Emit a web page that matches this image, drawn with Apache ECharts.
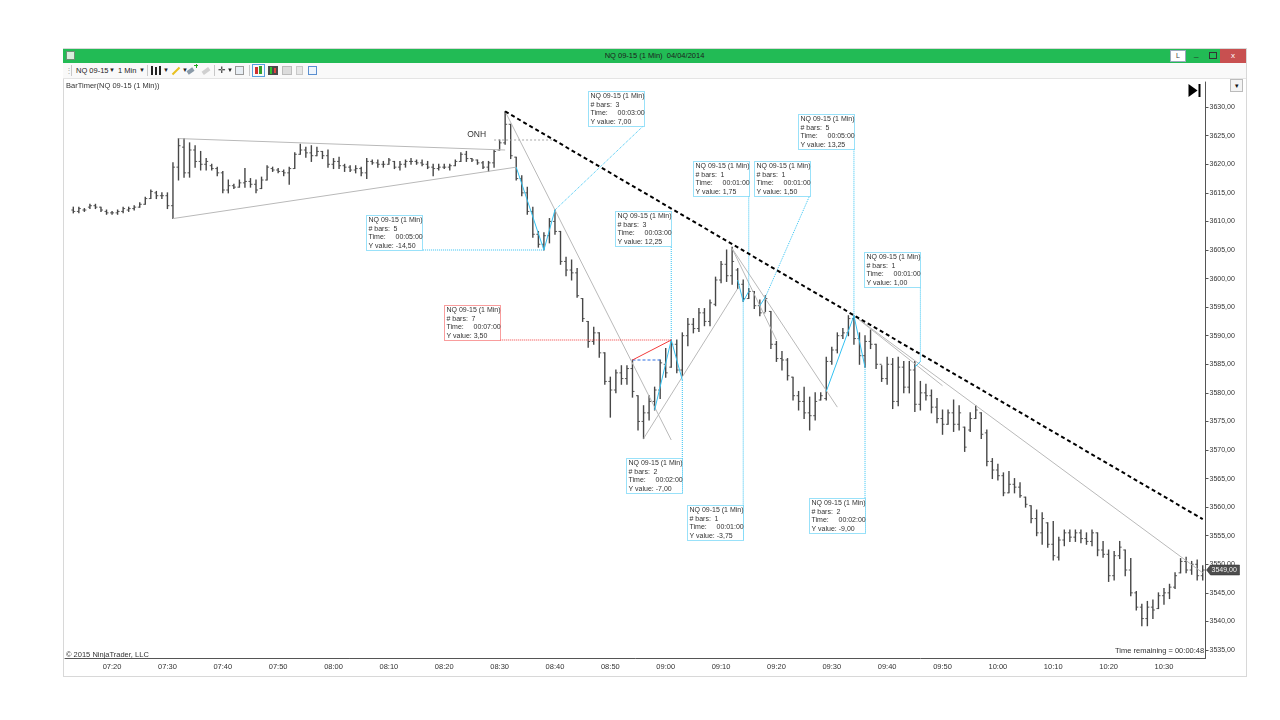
<!DOCTYPE html>
<html>
<head>
<meta charset="utf-8">
<title>NQ 09-15 (1 Min)</title>
<script src="https://cdn.jsdelivr.net/npm/echarts@6.0.0/dist/echarts.min.js"></script>
<style>
  html, body { margin: 0; padding: 0; background: #fff; }
  body { width: 1280px; height: 720px; position: relative; overflow: hidden; font-family: "Liberation Sans", Arial, sans-serif; color: #333; }
  #chart { position: absolute; left: 0; top: 0; width: 1280px; height: 720px; }
  .abs { position: absolute; }
  .win { left: 63px; top: 48px; width: 1182px; height: 627px; border: 1px solid #d8d8d8; }
  .titlebar { left: 63px; top: 49px; width: 1183px; height: 14px; background: #22bb55; }
  .ttext { left: 0; width: 1183px; top: 1px; text-align: center; font-size: 7.5px; line-height: 12px; color: #1c1c1c; white-space: pre; }
  .ticon { left: 3px; top: 2px; width: 9px; height: 9px; background: #d9eede; border: 1px solid #6c8f75; box-sizing: border-box; }
  .btnL { left: 1107px; top: 1px; width: 16px; height: 12px; background: #fff; border: 1px solid #9ab; box-sizing: border-box; font-size: 7px; line-height: 10px; text-align: center; color: #444; }
  .btnMin { left: 1131px; top: 0; font-size: 8px; color: #222; }
  .btnMax { left: 1146px; top: 3px; width: 6px; height: 5px; border: 1px solid #333; }
  .btnX { left: 1157px; top: 0; width: 26px; height: 14px; background: #c85050; color: #fff; font-size: 8px; line-height: 13px; text-align: center; }
  .toolbar { left: 63px; top: 63px; width: 1183px; height: 15px; background: #f9f9f9; border-bottom: 1px solid #e4e4e4; }
  .tb { font-size: 7.5px; line-height: 15px; color: #222; top: 0; white-space: pre; }
  .arr { font-size: 6px; line-height: 15px; color: #222; top: 0; }
  .sep { top: 2px; width: 1px; height: 11px; background: #c8c8c8; }
  .bartimer { left: 66px; top: 81px; font-size: 7.5px; color: #333; }
  .dd { left: 1230px; top: 79px; width: 13px; height: 13px; border: 1px solid #bbb; background: #f4f4f4; box-sizing: border-box; font-size: 7px; line-height: 11px; text-align: center; color: #111; }
  .copy { left: 66px; top: 650px; font-size: 7.5px; color: #333; }
  .remain { left: 1115px; top: 646px; font-size: 7.5px; color: #333; }
</style>
</head>
<body>
<div id="chart"></div>

<div class="abs win"></div>
<div class="abs titlebar">
  <div class="abs ticon"></div>
  <div class="abs ttext">NQ 09-15 (1 Min)  04/04/2014</div>
  <div class="abs btnL">L</div>
  <div class="abs btnMin">_</div>
  <div class="abs btnMax"></div>
  <div class="abs btnX">x</div>
</div>
<div class="abs toolbar">
  <div class="abs tb" style="left:2px;color:#aaa">⋮</div>
  <div class="abs sep" style="left:8px"></div>
  <div class="abs tb" style="left:13px">NQ 09-15</div>
  <div class="abs arr" style="left:46px">▼</div>
  <div class="abs tb" style="left:55px">1 Min</div>
  <div class="abs arr" style="left:76px">▼</div>
  <div class="abs sep" style="left:84px"></div>
  <div class="abs" style="left:88px;top:3px;width:2px;height:9px;background:#222"></div>
  <div class="abs" style="left:92px;top:4px;width:2px;height:8px;background:#222"></div>
  <div class="abs" style="left:96px;top:3px;width:2px;height:9px;background:#222"></div>
  <div class="abs arr" style="left:100px">▼</div>
  <div class="abs" style="left:108px;top:7px;width:10px;height:2px;background:#e8c020;transform:rotate(-45deg)"></div>
  <div class="abs arr" style="left:119px">▼</div>
  <div class="abs" style="left:124px;top:6px;width:7px;height:4px;background:#8a9aa8;transform:rotate(-35deg)"></div>
  <div class="abs" style="left:131px;top:2px;width:4px;height:1px;background:#2a2"></div>
  <div class="abs" style="left:132.5px;top:0.5px;width:1px;height:4px;background:#2a2"></div>
  <div class="abs" style="left:139px;top:6px;width:8px;height:4px;background:#d0d0d0;transform:rotate(-35deg)"></div>
  <div class="abs sep" style="left:151px"></div>
  <div class="abs tb" style="left:155px;font-size:9px">✛</div>
  <div class="abs arr" style="left:164px">▼</div>
  <div class="abs" style="left:172px;top:3px;width:9px;height:9px;border:1px solid #999;background:#e8eef4;box-sizing:border-box"></div>
  <div class="abs sep" style="left:186px"></div>
  <div class="abs" style="left:189px;top:1px;width:13px;height:13px;border:1px solid #5aa0e0;box-sizing:border-box"></div>
  <div class="abs" style="left:192px;top:4px;width:3px;height:7px;background:#d03030"></div>
  <div class="abs" style="left:196px;top:3px;width:3px;height:8px;background:#30a030"></div>
  <div class="abs" style="left:205px;top:3px;width:10px;height:9px;background:#4a4a4a"></div>
  <div class="abs" style="left:207px;top:4px;width:2px;height:7px;background:#30c030"></div>
  <div class="abs" style="left:211px;top:5px;width:2px;height:5px;background:#e04040"></div>
  <div class="abs" style="left:219px;top:3px;width:10px;height:9px;background:#dcdcdc;border:1px solid #bbb;box-sizing:border-box"></div>
  <div class="abs" style="left:233px;top:3px;width:7px;height:9px;background:#e6e6e6;border:1px solid #c8c8c8;box-sizing:border-box"></div>
  <div class="abs" style="left:245px;top:3px;width:9px;height:9px;border:1px solid #5a8fd0;background:#eef4fc;box-sizing:border-box"></div>
</div>
<div class="abs bartimer">BarTimer(NQ 09-15 (1 Min))</div>
<div class="abs dd">▾</div>
<div class="abs copy">© 2015 NinjaTrader, LLC</div>
<div class="abs remain">Time remaining = 00:00:48</div>

<script>
// ---- data -------------------------------------------------------------

// 1 minute bars: time, open, high, low, close
var bars = [
  ['07:13', 3612, 3612.5, 3611.5, 3611.75], ['07:14', 3611.75, 3612.5, 3611.5, 3612.25],
  ['07:15', 3612, 3612.25, 3611.75, 3612], ['07:16', 3612.5, 3613, 3612.25, 3612.75],
  ['07:17', 3612.75, 3613, 3612.25, 3612.5], ['07:18', 3612.5, 3612.5, 3611.75, 3612],
  ['07:19', 3611.75, 3612, 3611.25, 3611.5], ['07:20', 3611.5, 3611.75, 3611.25, 3611.5],
  ['07:21', 3611.5, 3612, 3611.25, 3611.75], ['07:22', 3611.75, 3612.5, 3611.5, 3612.25],
  ['07:23', 3612, 3612.5, 3611.75, 3612.25], ['07:24', 3612.25, 3612.75, 3612, 3612.5],
  ['07:25', 3612.5, 3613.25, 3612.5, 3613], ['07:26', 3613, 3614.25, 3613, 3614],
  ['07:27', 3614, 3615.5, 3614, 3615.25], ['07:28', 3615, 3615.25, 3614, 3614.5],
  ['07:29', 3614.5, 3615, 3614, 3614.5], ['07:30', 3614.5, 3615, 3612.25, 3612.75],
  ['07:31', 3612.75, 3620.25, 3610.5, 3619.5], ['07:32', 3619.5, 3624.5, 3617.25, 3623.25],
  ['07:33', 3623, 3624.5, 3617.75, 3618.5], ['07:34', 3618.5, 3623.75, 3617.75, 3622.5],
  ['07:35', 3622.5, 3623.25, 3619.5, 3620.5], ['07:36', 3620.5, 3622.25, 3619, 3620],
  ['07:37', 3620, 3621, 3619, 3620.5], ['07:38', 3619.75, 3620, 3619, 3619.25],
  ['07:39', 3619.25, 3619.5, 3618, 3618.5], ['07:40', 3618.5, 3618.75, 3615, 3615.5],
  ['07:41', 3615.5, 3617.25, 3615, 3616.25], ['07:42', 3616.25, 3616.5, 3615.75, 3616],
  ['07:43', 3616, 3617.25, 3616, 3616.75], ['07:44', 3616.75, 3619.25, 3616, 3617],
  ['07:45', 3617, 3617.5, 3616, 3616.5], ['07:46', 3616.5, 3617.25, 3615, 3615.5],
  ['07:47', 3615.75, 3617.75, 3615.75, 3617.25], ['07:48', 3617.25, 3619.75, 3617.25, 3619.5],
  ['07:49', 3619.25, 3619.5, 3618.75, 3619], ['07:50', 3619, 3619.25, 3618.5, 3618.75],
  ['07:51', 3618.75, 3619, 3618, 3618.5], ['07:52', 3618.5, 3619.5, 3616.5, 3619.25],
  ['07:53', 3619.25, 3622, 3619.25, 3621.75], ['07:54', 3621.75, 3623.5, 3621.75, 3622.5],
  ['07:55', 3622.5, 3623, 3621.25, 3622], ['07:56', 3622, 3623.25, 3620.5, 3621.5],
  ['07:57', 3621.5, 3623, 3621.5, 3622.25], ['07:58', 3622.25, 3622.25, 3621, 3621.5],
  ['07:59', 3621.5, 3622.5, 3619.5, 3620], ['08:00', 3620, 3621, 3619.25, 3620.5],
  ['08:01', 3620.5, 3621.25, 3619.25, 3619.75], ['08:02', 3619.75, 3620, 3618.75, 3619.5],
  ['08:03', 3619.5, 3619.75, 3618.75, 3619], ['08:04', 3619, 3619.75, 3618.5, 3619.25],
  ['08:05', 3619.25, 3619.5, 3618, 3618.5], ['08:06', 3618.5, 3621, 3617.5, 3620.5],
  ['08:07', 3620.5, 3620.75, 3620, 3620.25], ['08:08', 3620.25, 3620.75, 3619.5, 3620],
  ['08:09', 3620, 3620.5, 3619.5, 3620], ['08:10', 3620, 3621, 3620, 3620.75],
  ['08:11', 3620.5, 3620.5, 3619.25, 3619.5], ['08:12', 3619.5, 3620.5, 3619, 3620],
  ['08:13', 3620, 3620.75, 3619.5, 3620.5], ['08:14', 3620.5, 3621, 3620, 3620.5],
  ['08:15', 3620.5, 3620.75, 3620, 3620.25], ['08:16', 3620.25, 3620.75, 3619.75, 3620],
  ['08:17', 3620, 3620.5, 3619.25, 3619.5], ['08:18', 3619.5, 3620, 3618, 3619.25],
  ['08:19', 3619.25, 3620, 3619, 3619.5], ['08:20', 3619.5, 3620, 3619.25, 3619.5],
  ['08:21', 3619.5, 3620, 3619, 3619.75], ['08:22', 3619.75, 3620.75, 3619.75, 3620.5],
  ['08:23', 3620.5, 3622, 3620.5, 3621.75], ['08:24', 3621.75, 3622.25, 3620.5, 3621],
  ['08:25', 3621, 3621, 3620.5, 3620.75], ['08:26', 3620.75, 3620.75, 3620, 3620.25],
  ['08:27', 3620.25, 3620.5, 3619.25, 3619.5], ['08:28', 3619.5, 3620.5, 3618.75, 3620.25],
  ['08:29', 3620.25, 3622.5, 3619.5, 3622.25], ['08:30', 3622.5, 3624.25, 3622.5, 3623.75],
  ['08:31', 3623.75, 3629.25, 3623.5, 3627], ['08:32', 3627, 3627, 3621, 3621.5],
  ['08:33', 3621.25, 3621.25, 3617.25, 3617.5], ['08:34', 3617.5, 3618, 3614.5, 3615],
  ['08:35', 3615, 3616, 3611.25, 3611.75], ['08:36', 3611.75, 3612.5, 3607.25, 3607.75],
  ['08:37', 3607.75, 3608.25, 3605.5, 3606], ['08:38', 3606, 3608, 3605, 3607.5],
  ['08:39', 3607.5, 3610.5, 3606.25, 3610], ['08:40', 3610, 3612, 3607.75, 3608.25],
  ['08:41', 3608.25, 3608.25, 3602.5, 3603], ['08:42', 3603, 3603.75, 3600.5, 3601.5],
  ['08:43', 3601.5, 3603.25, 3599.75, 3601], ['08:44', 3601, 3601.75, 3596.75, 3597],
  ['08:45', 3596.5, 3596.5, 3592.5, 3593], ['08:46', 3592.5, 3592.5, 3588, 3589],
  ['08:47', 3589, 3591.5, 3588.5, 3590.5], ['08:48', 3590.5, 3590.5, 3586.25, 3587],
  ['08:49', 3587, 3587, 3581.5, 3582], ['08:50', 3582, 3582.75, 3575.75, 3580.5],
  ['08:51', 3580.5, 3584, 3580, 3583.5], ['08:52', 3583.5, 3584.75, 3581.5, 3582.5],
  ['08:53', 3582.5, 3584.75, 3581.5, 3584.25], ['08:54', 3584.25, 3585.75, 3579.25, 3580.25],
  ['08:55', 3579.5, 3579.5, 3573.5, 3575], ['08:56', 3575, 3577.75, 3572, 3576.5],
  ['08:57', 3576.5, 3579.5, 3575.25, 3578.5], ['08:58', 3578.5, 3581, 3577, 3580.5],
  ['08:59', 3580.5, 3585.75, 3579, 3585.25], ['09:00', 3585, 3587.75, 3582.75, 3583.5],
  ['09:01', 3584.5, 3589.25, 3584.5, 3588.5], ['09:02', 3588.5, 3589.25, 3583.5, 3584],
  ['09:03', 3584, 3590.5, 3583, 3590], ['09:04', 3590, 3593, 3588.25, 3592],
  ['09:05', 3592, 3593, 3590.5, 3591.25], ['09:06', 3591.25, 3594.75, 3590.75, 3594],
  ['09:07', 3594, 3594.75, 3591.75, 3592.5], ['09:08', 3592.5, 3596.25, 3591.75, 3595.75],
  ['09:09', 3595.5, 3600.25, 3595.25, 3599.75], ['09:10', 3599.75, 3603, 3599.25, 3602.5],
  ['09:11', 3602.5, 3605, 3599.5, 3600.5], ['09:12', 3600.5, 3605.5, 3599, 3603],
  ['09:13', 3601.5, 3601.75, 3598.25, 3599], ['09:14', 3599, 3599.75, 3596, 3596.5],
  ['09:15', 3596.5, 3598.25, 3596.5, 3597.75], ['09:16', 3597.75, 3597.75, 3594.75, 3595.25],
  ['09:17', 3595.25, 3596.25, 3593.5, 3594], ['09:18', 3594, 3597, 3594.25, 3596.5],
  ['09:19', 3594.25, 3594.25, 3587.75, 3588.5], ['09:20', 3588.5, 3589, 3585.5, 3586],
  ['09:21', 3586, 3587.25, 3584, 3585.75], ['09:22', 3585.75, 3586, 3582.25, 3583],
  ['09:23', 3582.75, 3582.75, 3578.75, 3579.5], ['09:24', 3579.5, 3580.25, 3577, 3578.5],
  ['09:25', 3578.5, 3581, 3575.5, 3576.5], ['09:26', 3576.5, 3579.25, 3573.5, 3576],
  ['09:27', 3576, 3580, 3575.25, 3578.5], ['09:28', 3578.75, 3580, 3578.75, 3579.5],
  ['09:29', 3579, 3586.25, 3578.75, 3585.5], ['09:30', 3585.5, 3588, 3585, 3587.5],
  ['09:31', 3587.5, 3590.5, 3587, 3590], ['09:32', 3590, 3591.25, 3589.5, 3590.5],
  ['09:33', 3590.5, 3593.5, 3590, 3593], ['09:34', 3593, 3593.5, 3588.5, 3589.5],
  ['09:35', 3589.5, 3590.5, 3585, 3586.5], ['09:36', 3586.5, 3590, 3584.5, 3589],
  ['09:37', 3589, 3591, 3587.75, 3588.5], ['09:38', 3588.5, 3588.5, 3584.25, 3585],
  ['09:39', 3585, 3584.75, 3582, 3582.5], ['09:40', 3582.5, 3586.25, 3581.5, 3585],
  ['09:41', 3585, 3586, 3577.25, 3578.5], ['09:42', 3578.5, 3586.25, 3577.75, 3584.5],
  ['09:43', 3584.5, 3585.5, 3580, 3581], ['09:44', 3581, 3585.5, 3580, 3584],
  ['09:45', 3584, 3585.5, 3576.75, 3578], ['09:46', 3578, 3582, 3577, 3580],
  ['09:47', 3580, 3581.5, 3578.75, 3579.5], ['09:48', 3579.5, 3580.5, 3576.5, 3577.5],
  ['09:49', 3577.5, 3579, 3574.75, 3575.5], ['09:50', 3575.5, 3577, 3572.75, 3574.5],
  ['09:51', 3574.5, 3577, 3574.5, 3576.5], ['09:52', 3576.5, 3578.75, 3573.25, 3574.5],
  ['09:53', 3574.5, 3577.75, 3573.5, 3576.5], ['09:54', 3574, 3574, 3569.75, 3570.5],
  ['09:55', 3573.5, 3576.5, 3573.25, 3575.5], ['09:56', 3575.5, 3577.75, 3575.5, 3577],
  ['09:57', 3576.5, 3576.5, 3572, 3572.75], ['09:58', 3573, 3573.5, 3567.25, 3568],
  ['09:59', 3568, 3568.5, 3565, 3566.5], ['10:00', 3566.5, 3567.5, 3564.75, 3565.5],
  ['10:01', 3565.5, 3566, 3562, 3562.5], ['10:02', 3562.5, 3566.25, 3562.5, 3564],
  ['10:03', 3564, 3565, 3562.5, 3563.5], ['10:04', 3563.5, 3564.25, 3561.75, 3562],
  ['10:05', 3561.75, 3561.75, 3560, 3560.5], ['10:06', 3560.25, 3560.25, 3557.25, 3558],
  ['10:07', 3558, 3559.5, 3555, 3555.5], ['10:08', 3555.5, 3559, 3553.5, 3558],
  ['10:09', 3557.25, 3557.25, 3553, 3553.5], ['10:10', 3553.5, 3557.5, 3550.75, 3551.5],
  ['10:11', 3551.25, 3554.75, 3550.75, 3554.25], ['10:12', 3554.25, 3556, 3553.25, 3555.5],
  ['10:13', 3555.5, 3556, 3554, 3554.75], ['10:14', 3554.75, 3556, 3554, 3555.5],
  ['10:15', 3555.5, 3556, 3553.75, 3554.5], ['10:16', 3554.5, 3555.5, 3553.5, 3554],
  ['10:17', 3554, 3556, 3553.25, 3555.5], ['10:18', 3555.5, 3555.5, 3551.5, 3552.5],
  ['10:19', 3552.5, 3554, 3551.25, 3551.75], ['10:20', 3551.75, 3552.5, 3547, 3548],
  ['10:21', 3548, 3552.25, 3547.25, 3551.5], ['10:22', 3551.5, 3554, 3551, 3553],
  ['10:23', 3552.5, 3552.5, 3548, 3549], ['10:24', 3549, 3551, 3544.5, 3545],
  ['10:25', 3545, 3545.25, 3542, 3542.5], ['10:26', 3542.5, 3543, 3539.25, 3540.5],
  ['10:27', 3540.5, 3543.5, 3539.25, 3542.5], ['10:28', 3542.5, 3543.75, 3540.5, 3542],
  ['10:29', 3542.25, 3545, 3542.25, 3544.5], ['10:30', 3544.5, 3545.75, 3543, 3545],
  ['10:31', 3545, 3546.5, 3544, 3546], ['10:32', 3546, 3548.5, 3545.75, 3548],
  ['10:33', 3548.5, 3551, 3548.5, 3550.5], ['10:34', 3550.5, 3551.25, 3548.5, 3549],
  ['10:35', 3549, 3550.5, 3548.25, 3550], ['10:36', 3550, 3550.75, 3547.25, 3548],
  ['10:37', 3548, 3549.75, 3547.25, 3549]
];

var firstMinute = '07:12';
var lastMinute = '10:37';
var lastPrice = 3549;
var priceMin = 3533.6;
var priceMax = 3634.4;

// grey trend lines: time1, price1, time2, price2
var greyLines = [
  ['07:32', 3624.5, '08:31', 3622.5],
  ['07:31', 3610.5, '08:33', 3619.5],
  ['08:31', 3629.25, '09:01', 3571.75],
  ['08:56', 3572, '09:13', 3598.25],
  ['09:12', 3605.25, '09:31', 3577.5],
  ['09:12', 3605.25, '09:20', 3589.25],
  ['09:34', 3593.5, '09:50', 3581.25],
  ['09:34', 3593.5, '10:37', 3548.5]
];
var onhLine = ['08:29', 3624.25, '08:40', 3624.25];
var onhLabel = 'ONH';
var resistanceLine = ['08:31', 3629.25, '10:37', 3557.9];
var blueDash = ['08:54', 3585.75, '08:59', 3585.75];

// rulers: start time/price, end time/price, text anchor time/price, bars, time, y value, colour
var rulers = [
  ['08:33', 3619.5, '08:38', 3605, '08:16', 3605, '5', '00:05:00', '-14,50', 'cyan'],
  ['08:38', 3605, '08:40', 3612, '08:56', 3626.75, '3', '00:03:00', '7,00', 'cyan'],
  ['08:58', 3577, '09:01', 3589.25, '09:01', 3605.75, '3', '00:03:00', '12,25', 'cyan'],
  ['09:01', 3589.25, '09:03', 3582.25, '09:03', 3562.5, '2', '00:02:00', '-7,00', 'cyan'],
  ['08:54', 3585.75, '09:01', 3589.25, '08:30', 3589.25, '7', '00:07:00', '3,50', 'red'],
  ['09:14', 3596, '09:15', 3597.75, '09:15', 3614.5, '1', '00:01:00', '1,75', 'cyan'],
  ['09:17', 3595.25, '09:18', 3596.75, '09:26', 3614.5, '1', '00:01:00', '1,50', 'cyan'],
  ['09:13', 3599.75, '09:14', 3596, '09:14', 3554.25, '1', '00:01:00', '-3,75', 'cyan'],
  ['09:29', 3580.25, '09:34', 3593.5, '09:34', 3622.75, '5', '00:05:00', '13,25', 'cyan'],
  ['09:34', 3593.5, '09:36', 3584.5, '09:36', 3555.5, '2', '00:02:00', '-9,00', 'cyan'],
  ['09:45', 3584.5, '09:46', 3585.5, '09:46', 3598.5, '1', '00:01:00', '1,00', 'cyan']
];
var instrument = 'NQ 09-15 (1 Min)';

// ---- helpers ----------------------------------------------------------

var FONT = '"Liberation Sans", Arial, sans-serif';
var CYAN = '#33c2f2', RED = '#f23b3b';
var BAR = '#474747';

function toMin(t) { var a = t.split(':'); return (+a[0]) * 60 + (+a[1]); }
function pad(n) { return (n < 10 ? '0' : '') + n; }

// one category per minute
var categories = [];
for (var m = toMin(firstMinute); m <= toMin(lastMinute); m++) {
    categories.push(pad(Math.floor(m / 60)) + ':' + pad(m % 60));
}
function ix(t) { return categories.indexOf(t); }
function onTen(i, v) { return /0$/.test(v); }

var lineStyles = {
    grey: ['#b9b9b9', 1, null],
    dash: ['#000', 2, [4, 3]],
    cyan: [CYAN, 1, null],
    cyanDot: [CYAN, 1, [1, 1]],
    red: [RED, 1, null],
    redDot: [RED, 1, [1, 1]],
    blue: ['#2f6fe2', 1.2, [3, 2]],
    onh: ['#a8a8a8', 1, [2, 2]]
};

var segs = [];
function addSeg(r, kind) { segs.push([ix(r[0]), r[1], ix(r[2]), r[3], kind]); }
greyLines.forEach(function (r) { addSeg(r, 'grey'); });
addSeg(onhLine, 'onh');
addSeg(blueDash, 'blue');
rulers.forEach(function (r) {
    var red = r[9] === 'red';
    addSeg([r[0], r[1], r[2], r[3]], red ? 'red' : 'cyan');
    addSeg([r[2], r[3], r[4], r[5]], red ? 'redDot' : 'cyanDot');
});
addSeg(resistanceLine, 'dash');

// ---- render functions -------------------------------------------------

function renderOhlc(params, api) {
    var x = api.value(0);
    var o = api.coord([x, api.value(1)]);
    var h = api.coord([x, api.value(2)]);
    var l = api.coord([x, api.value(3)]);
    var c = api.coord([x, api.value(4)]);
    return {
        type: 'group',
        children: [
            { type: 'line', shape: { x1: h[0], y1: h[1] - 0.5, x2: l[0], y2: l[1] + 0.5 }, style: { stroke: BAR, lineWidth: 1.4 } },
            { type: 'line', shape: { x1: o[0] - 2, y1: o[1], x2: o[0], y2: o[1] }, style: { stroke: BAR, lineWidth: 0.9 } },
            { type: 'line', shape: { x1: c[0], y1: c[1], x2: c[0] + 2, y2: c[1] }, style: { stroke: BAR, lineWidth: 0.9 } }
        ]
    };
}

function renderSeg(params, api) {
    var s = segs[params.dataIndex], st = lineStyles[s[4]];
    var a = api.coord([s[0], s[1]]), b = api.coord([s[2], s[3]]);
    return {
        type: 'line',
        shape: { x1: a[0], y1: a[1], x2: b[0], y2: b[1] },
        style: { stroke: st[0], lineWidth: st[1], lineDash: st[2] }
    };
}

function renderBox(params, api) {
    var r = rulers[params.dataIndex];
    var p = api.coord([ix(r[4]), r[5]]);
    var w = 56, h = 35;
    var x0 = Math.round(p[0]) - w + 0.5, y0 = Math.round(p[1]) - h + 0.5;
    var col = r[9] === 'red' ? RED : CYAN;
    var f = '7px ' + FONT, tc = '#333';
    function t(str, dx, dy) {
        return { type: 'text', style: { text: str, x: x0 + dx, y: y0 + dy, font: f, fill: tc, textVerticalAlign: 'top' } };
    }
    return {
        type: 'group',
        children: [
            { type: 'rect', shape: { x: x0, y: y0, width: w, height: h }, style: { fill: '#fff', stroke: col, lineWidth: 1, lineDash: [1, 1] } },
            t(instrument, 2, 1.5),
            t('# bars:', 2, 10), t(r[6], 27, 10),
            t('Time:', 2, 18.5), t(r[7], 29, 18.5),
            t('Y value: ' + r[8], 2, 27)
        ]
    };
}

function renderOnh(params, api) {
    var p = api.coord([ix(onhLine[0]), onhLine[1]]);
    return { type: 'text', style: { text: onhLabel, x: p[0] - 8, y: p[1] - 1, font: '8.5px ' + FONT, fill: '#333', textAlign: 'right', textVerticalAlign: 'bottom' } };
}

function renderLastPrice(params, api) {
    var y = Math.round(api.coord([0, api.value(1)])[1]);
    var x = params.coordSys.x + params.coordSys.width + 1;
    return {
        type: 'group',
        children: [
            { type: 'polygon', shape: { points: [[x, y], [x + 4, y - 5], [x + 33, y - 5], [x + 33, y + 5], [x + 4, y + 5]] }, style: { fill: '#4d4d4d', stroke: '#2a2a2a', lineWidth: 0.5 } },
            { type: 'text', style: { text: api.value(1).toFixed(2).replace('.', ','), x: x + 5, y: y, font: '7px ' + FONT, fill: '#f2f2f2', textVerticalAlign: 'middle' } }
        ]
    };
}

function renderEndMarker(params, api) {
    var x = params.coordSys.x + params.coordSys.width - 17;
    var y = params.coordSys.y + 2;
    return {
        type: 'group',
        children: [
            { type: 'polygon', shape: { points: [[x, y], [x + 9, y + 6.5], [x, y + 13]] }, style: { fill: '#000' } },
            { type: 'rect', shape: { x: x + 10, y: y, width: 2, height: 13 }, style: { fill: '#000' } }
        ]
    };
}

// ---- chart ------------------------------------------------------------

var chart = echarts.init(document.getElementById('chart'));

var option = {
    animation: false,
    backgroundColor: 'transparent',
    grid: { left: 65, right: 74.5, top: 82, bottom: 62 },
    xAxis: {
        type: 'category',
        data: categories,
        boundaryGap: true,
        axisLine: { lineStyle: { color: '#555', width: 1 } },
        axisTick: { alignWithLabel: true, interval: onTen, length: 4, lineStyle: { color: '#555' } },
        axisLabel: { interval: onTen, color: '#333', fontSize: 7.5, fontFamily: FONT, margin: 5 },
        splitLine: { show: false }
    },
    yAxis: {
        type: 'value',
        position: 'right',
        min: priceMin,
        max: priceMax,
        splitNumber: 20,
        axisLine: { show: true, lineStyle: { color: '#555', width: 1 } },
        axisTick: { show: true, length: 3, lineStyle: { color: '#555' } },
        axisLabel: {
            color: '#333', fontSize: 7, fontFamily: FONT, margin: 4,
            showMinLabel: false, showMaxLabel: false,
            formatter: function (v) { return v.toFixed(2).replace('.', ','); }
        },
        splitLine: { show: false }
    },
    series: [
        {
            type: 'custom', name: 'bars', renderItem: renderOhlc,
            data: bars.map(function (b) { return [ix(b[0]), b[1], b[2], b[3], b[4]]; }),
            encode: { x: 0, y: [1, 2, 3, 4] }, z: 2
        },
        {
            type: 'custom', name: 'drawings', renderItem: renderSeg,
            data: segs.map(function (s) { return [s[0], s[1], s[2], s[3]]; }),
            encode: { x: [0, 2], y: [1, 3] }, z: 3
        },
        {
            type: 'custom', name: 'onh', renderItem: renderOnh,
            data: [[ix(onhLine[0]), onhLine[1]]], encode: { x: 0, y: 1 }, z: 3
        },
        {
            type: 'custom', name: 'rulerText', renderItem: renderBox,
            data: rulers.map(function (r) { return [ix(r[4]), r[5]]; }),
            encode: { x: 0, y: 1 }, z: 4
        },
        {
            type: 'custom', name: 'last', renderItem: renderLastPrice,
            data: [[ix(lastMinute), lastPrice]], encode: { x: 0, y: 1 }, z: 5
        },
        {
            type: 'custom', name: 'endMarker', renderItem: renderEndMarker,
            data: [[ix(lastMinute), priceMax]], encode: { x: 0, y: 1 }, z: 5
        }
    ]
};

chart.setOption(option);
</script>
</body>
</html>
